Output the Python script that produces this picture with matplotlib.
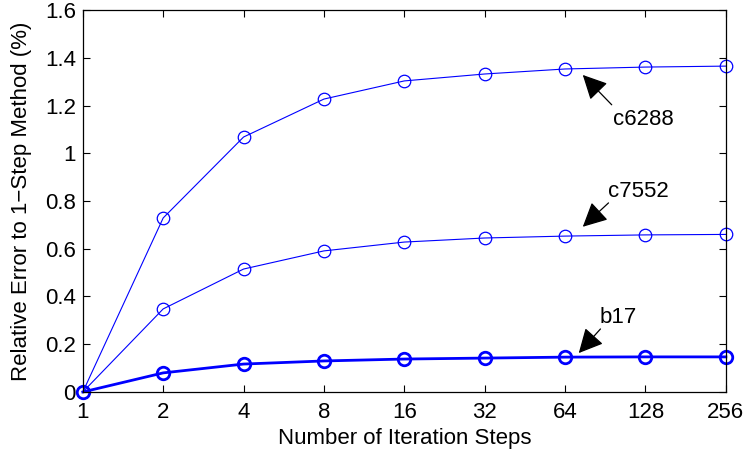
import matplotlib.pyplot as plt
from matplotlib.patches import FancyArrowPatch

plt.rcParams['font.family'] = ['Liberation Sans', 'DejaVu Sans']

steps = ["1", "2", "4", "8", "16", "32", "64", "128", "256"]
c6288 = [0.0, 0.729, 1.068, 1.227, 1.303, 1.332, 1.353, 1.361, 1.365]
c7552 = [0.0, 0.348, 0.515, 0.591, 0.628, 0.645, 0.653, 0.658, 0.660]
b17 = [0.0, 0.080, 0.117, 0.130, 0.138, 0.142, 0.146, 0.147, 0.147]

# annotation positions: (label, text xy, arrow tail, arrow tip)
notes = [
    ("c6288", (6.97, 1.143), (6.58, 1.203), (6.22, 1.328)),
    ("c7552", (6.91, 0.838), (6.54, 0.792), (6.22, 0.692)),
    ("b17", (6.66, 0.314), (6.44, 0.264), (6.17, 0.163)),
]

fig = plt.figure(figsize=(7.46, 4.55), dpi=100)
ax = fig.add_axes([0.111, 0.1385, 0.862, 0.8395])

x = range(len(steps))
ax.plot(x, c6288, '-o', color='blue', lw=0.8, mfc='none', ms=9, mew=0.9, clip_on=False)
ax.plot(x, c7552, '-o', color='blue', lw=0.8, mfc='none', ms=9, mew=0.9, clip_on=False)
ax.plot(x, b17, '-o', color='blue', lw=2.0, mfc='none', ms=9, mew=2.0, clip_on=False)

for label, txy, tail, tip in notes:
    ax.text(txy[0], txy[1], label, fontsize=16, ha='center', va='center')
    ax.add_patch(FancyArrowPatch(tail, tip, arrowstyle='-|>,head_length=1.0,head_width=0.5',
                                 mutation_scale=15, color='black', lw=0.9,
                                 shrinkA=0, shrinkB=0))

ax.set_xlim(0, len(steps) - 1)
ax.set_ylim(0, 1.6)
ax.set_xticks(list(x))
ax.set_xticklabels(steps)
ax.set_yticks([0, 0.2, 0.4, 0.6, 0.8, 1.0, 1.2, 1.4, 1.6])
ax.set_yticklabels(["0", "0.2", "0.4", "0.6", "0.8", "1", "1.2", "1.4", "1.6"])
ax.tick_params(direction='in', length=5, width=0.8, labelsize=16,
               top=True, right=True)
ax.tick_params(axis='x', pad=7)
ax.tick_params(axis='y', pad=5)
for s in ax.spines.values():
    s.set_linewidth(0.9)

ax.set_xlabel("Number of Iteration Steps", fontsize=16, labelpad=4)
ax.set_ylabel("Relative Error to 1\u2212Step Method (%)", fontsize=16, labelpad=9)

fig.savefig("out.png", dpi=100)
